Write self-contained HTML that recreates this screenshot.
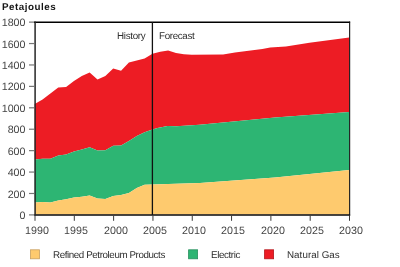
<!DOCTYPE html>
<html><head><meta charset="utf-8"><style>
html,body{margin:0;padding:0;background:#fff;}
body{width:400px;height:267px;position:relative;overflow:hidden;font-family:"Liberation Sans",sans-serif;color:#333;}
.t,.yl,.xl,.title,.lt{will-change:transform;text-rendering:geometricPrecision;}
.t{position:absolute;white-space:nowrap;font-size:9.8px;line-height:12px;color:#2e2e2e;}
.yl{position:absolute;left:0;width:25.5px;text-align:right;font-size:10.7px;letter-spacing:0px;line-height:12px;color:#444;}
.xl{position:absolute;top:224.8px;width:40px;text-align:center;font-size:10.7px;letter-spacing:0px;line-height:12px;color:#444;}
.title{position:absolute;left:2px;top:1.5px;font-size:9.8px;letter-spacing:0.53px;font-weight:bold;color:#151515;line-height:12px;}
.lt{position:absolute;top:249.6px;font-size:9.8px;line-height:12px;color:#2e2e2e;white-space:nowrap;}
</style></head><body>
<svg width="400" height="267" viewBox="0 0 400 267" style="position:absolute;left:0;top:0">
<polygon points="34.70,103.90 42.55,99.40 50.40,93.50 58.25,87.40 66.10,87.10 73.95,81.00 81.80,75.90 89.65,72.50 97.50,79.40 105.35,76.10 113.20,68.40 121.05,70.80 128.90,62.50 136.75,60.40 144.60,58.50 152.45,53.80 160.30,51.70 168.15,50.40 176.00,53.10 183.85,54.20 191.70,54.80 223.10,54.40 235.00,52.60 262.35,49.10 270.20,47.50 285.90,46.40 309.45,42.80 349.20,37.40 349.20,112.00 275.00,117.50 199.55,124.75 176.25,126.25 167.50,126.00 157.50,127.90 152.45,129.50 144.60,132.20 136.75,135.90 128.90,141.00 121.05,145.50 113.20,145.80 105.35,150.30 97.50,150.60 89.65,147.20 81.80,149.60 73.95,151.50 66.10,154.40 58.25,155.50 50.40,158.70 42.55,158.70 34.70,159.50" fill="#ED1C24"/>
<polygon points="34.70,159.50 42.55,158.70 50.40,158.70 58.25,155.50 66.10,154.40 73.95,151.50 81.80,149.60 89.65,147.20 97.50,150.60 105.35,150.30 113.20,145.80 121.05,145.50 128.90,141.00 136.75,135.90 144.60,132.20 152.45,129.50 157.50,127.90 167.50,126.00 176.25,126.25 199.55,124.75 275.00,117.50 349.20,112.00 349.20,170.00 275.00,177.40 200.00,182.90 152.45,184.50 144.60,184.80 136.75,188.00 128.90,193.10 121.05,194.90 113.20,196.00 105.35,198.90 97.50,198.60 89.65,195.50 81.80,196.80 73.95,197.60 66.10,199.20 58.25,200.50 50.40,202.40 42.55,201.90 34.70,202.40" fill="#2DB573"/>
<polygon points="34.70,202.40 42.55,201.90 50.40,202.40 58.25,200.50 66.10,199.20 73.95,197.60 81.80,196.80 89.65,195.50 97.50,198.60 105.35,198.90 113.20,196.00 121.05,194.90 128.90,193.10 136.75,188.00 144.60,184.80 152.45,184.50 200.00,182.90 275.00,177.40 349.20,170.00 349.20,214.50 34.70,214.50" fill="#FECA6E"/>
<g fill="none">
<path d="M34 22.25 H350.1" stroke="#000" stroke-width="1.3"/>
<path d="M34.2 215 H350.1" stroke="#0a0a0a" stroke-width="1.6"/>
<path d="M35.1 21.5 V215.8" stroke="#262626" stroke-width="1.5"/>
<path d="M349.65 21.6 V215.8" stroke="#111" stroke-width="1.1"/>
<path d="M152.4 22 V214.9" stroke="#111" stroke-width="1.3"/>
</g>
<g stroke="#777" stroke-width="1.2"><path d="M29 214.90 H34"/>
<path d="M29 193.48 H34"/>
<path d="M29 172.06 H34"/>
<path d="M29 150.64 H34"/>
<path d="M29 129.22 H34"/>
<path d="M29 107.80 H34"/>
<path d="M29 86.38 H34"/>
<path d="M29 64.96 H34"/>
<path d="M29 43.54 H34"/>
<path d="M29 22.12 H34"/>
</g>
<g stroke="#3a3a3a" stroke-width="1.0"><path d="M35.00 215.6 V220.8"/>
<path d="M74.31 215.6 V220.8"/>
<path d="M113.62 215.6 V220.8"/>
<path d="M152.94 215.6 V220.8"/>
<path d="M192.25 215.6 V220.8"/>
<path d="M231.56 215.6 V220.8"/>
<path d="M270.88 215.6 V220.8"/>
<path d="M310.19 215.6 V220.8"/>
<path d="M349.50 215.6 V220.8"/>
</g>
<rect x="30.5" y="249.8" width="9" height="9" fill="#FECA6E" stroke="#C8A060" stroke-width="0.8"/>
<rect x="188.6" y="249.8" width="9" height="9" fill="#2DB573" stroke="#27905E" stroke-width="0.8"/>
<rect x="264.6" y="249.8" width="9" height="9" fill="#ED1C24" stroke="#B5161C" stroke-width="0.8"/>
</svg>
<div class="title">Petajoules</div>
<div class="yl" style="top:210.00px">0</div>
<div class="yl" style="top:188.58px">200</div>
<div class="yl" style="top:167.16px">400</div>
<div class="yl" style="top:145.74px">600</div>
<div class="yl" style="top:124.32px">800</div>
<div class="yl" style="top:102.90px">1000</div>
<div class="yl" style="top:81.48px">1200</div>
<div class="yl" style="top:60.06px">1400</div>
<div class="yl" style="top:38.64px">1600</div>
<div class="yl" style="top:17.22px">1800</div>
<div class="xl" style="left:16.90px">1990</div>
<div class="xl" style="left:56.21px">1995</div>
<div class="xl" style="left:95.53px">2000</div>
<div class="xl" style="left:134.84px">2005</div>
<div class="xl" style="left:174.15px">2010</div>
<div class="xl" style="left:213.46px">2015</div>
<div class="xl" style="left:252.77px">2020</div>
<div class="xl" style="left:292.09px">2025</div>
<div class="xl" style="left:331.40px">2030</div>
<div class="t" style="left:117px;top:31.3px;letter-spacing:-0.3px">History</div>
<div class="t" style="left:159px;top:31.3px;letter-spacing:-0.34px">Forecast</div>
<div class="lt" style="left:53px;letter-spacing:-0.41px">Refined Petroleum Products</div>
<div class="lt" style="left:211px;letter-spacing:-0.4px">Electric</div>
<div class="lt" style="left:286.7px;letter-spacing:0.05px">Natural Gas</div>
</body></html>
